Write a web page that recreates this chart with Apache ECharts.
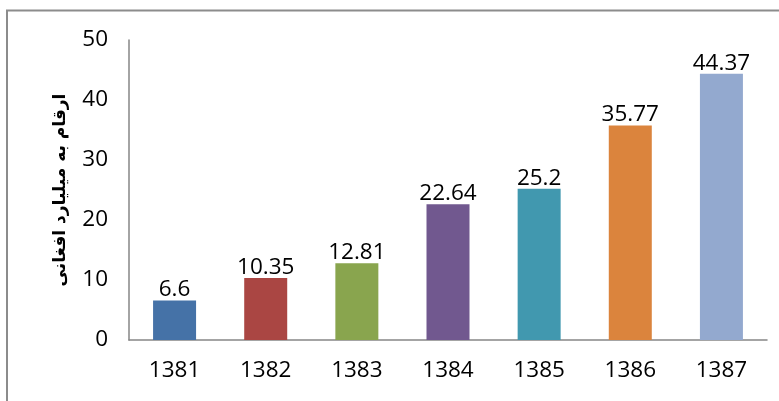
<!DOCTYPE html>
<html><head><meta charset="utf-8">
<script src="https://cdn.jsdelivr.net/npm/echarts@6/dist/echarts.min.js"></script>
<style>html,body{margin:0;padding:0;background:#fff}#c{width:779px;height:401px}</style>
</head><body><div id="c"></div>
<script>
const categories = ['1381','1382','1383','1384','1385','1386','1387'];
const values = [6.6, 10.35, 12.81, 22.64, 25.2, 35.77, 44.37];
const barColors = ['#4572A7','#AA4643','#89A54E','#71588F','#4198AF','#DB843D','#93A9CF'];
const yAxisName = 'ارقام به میلیارد افغانی';
const yTicks = [0, 10, 20, 30, 40, 50];

const font = "'Open Sans', 'Liberation Sans', Arial, sans-serif";
const chart = echarts.init(document.getElementById('c'));
chart.setOption({
  animation: false,
  graphic: [{type:'rect', shape:{x:7,y:10.5,width:900,height:600}, style:{fill:null, stroke:'#8c8c8c', lineWidth:2}, silent:true}],
  grid: {left: 129, right: 12, top: 40, bottom: 61},
  xAxis: {
    type: 'category', data: categories,
    axisLine: {lineStyle: {color: '#868686', width: 1.5}},
    axisTick: {show: false},
    axisLabel: {color: '#000', fontFamily: font, fontSize: 22.5, margin: 19}
  },
  yAxis: {
    type: 'value', min: yTicks[0], max: yTicks[yTicks.length-1], interval: 10,
    name: yAxisName, nameLocation: 'middle', nameGap: 60, nameRotate: 90,
    nameTextStyle: {fontFamily: "'DejaVu Sans', sans-serif", fontWeight: 'bold', fontSize: 17, color: '#000'},
    axisLine: {show: true, lineStyle: {color: '#868686', width: 1.5}},
    axisTick: {show: false},
    splitLine: {show: false},
    axisLabel: {color: '#000', fontFamily: font, fontSize: 22.5, margin: 21}
  },
  series: [{
    type: 'bar', data: values.map((v,i)=>({value:v, itemStyle:{color:barColors[i]}})),
    barWidth: 43,
    label: {show: true, position: 'top', distance: -1, color: '#000', fontFamily: font, fontSize: 22.5}
  }]
});
</script></body></html>
